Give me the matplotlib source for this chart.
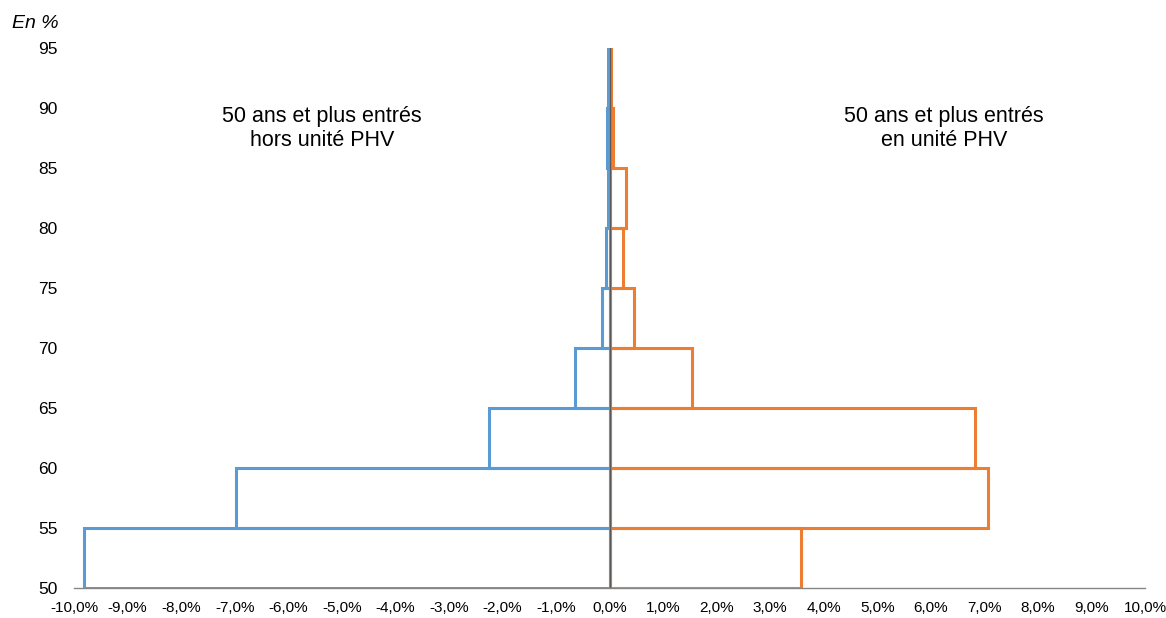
import matplotlib.pyplot as plt
import numpy as np

plt.rcParams['font.family'] = ['Liberation Sans Narrow', 'Liberation Sans', 'DejaVu Sans']

# age groups (lower bound of each 5-year band)
ages = [50, 55, 60, 65, 70, 75, 80, 85, 90]
# share of entrants in %, negative = left side of the pyramid
hors_phv = [-9.81, -6.98, -2.25, -0.64, -0.14, -0.07, -0.02, -0.05, -0.02]
en_phv = [3.58, 7.06, 6.82, 1.54, 0.45, 0.25, 0.30, 0.06, 0.02]

y_ticks = [50, 55, 60, 65, 70, 75, 80, 85, 90, 95]
x_ticks = np.arange(-10, 11, 1)

blue = '#5B9BD5'
orange = '#ED7D31'

fig = plt.figure(figsize=(11.66, 6.18), dpi=100)
ax = fig.add_axes([0.0635, 0.048, 0.9185, 0.874])

ax.barh(ages, hors_phv, height=5, align='edge', left=0, fill=False,
        edgecolor=blue, linewidth=2.2, zorder=2)
ax.barh(ages, en_phv, height=5, align='edge', left=0, fill=False,
        edgecolor=orange, linewidth=2.2, zorder=2)

ax.axvline(0, ymin=0, ymax=1, color='#595959', linewidth=1, zorder=3)

ax.set_xlim(-10, 10)
ax.set_ylim(50, 95)
ax.set_xticks(x_ticks)
ax.set_xticklabels([('%.1f%%' % v).replace('.', ',') for v in x_ticks])
ax.set_yticks(y_ticks)
ax.set_yticklabels([str(v) for v in y_ticks])
ax.tick_params(axis='both', length=0, colors='black')
ax.tick_params(axis='x', pad=9, labelsize=11)
ax.tick_params(axis='y', pad=12, labelsize=12.5)

for s in ['top', 'right', 'left']:
    ax.spines[s].set_visible(False)
ax.spines['bottom'].set_color('#868686')
ax.spines['bottom'].set_linewidth(1)
ax.spines['bottom'].set_zorder(1)

ax.text(-5.37, 88.3, '50 ans et plus entrés\nhors unité PHV', ha='center', va='center',
        fontsize=15.5, linespacing=1.15)
ax.text(6.25, 88.3, '50 ans et plus entrés\nen unité PHV', ha='center', va='center',
        fontsize=15.5, linespacing=1.15)

fig.text(0.030, 0.962, 'En %', ha='center', va='center', fontsize=14, style='italic')

fig.savefig('out.png', dpi=100)
